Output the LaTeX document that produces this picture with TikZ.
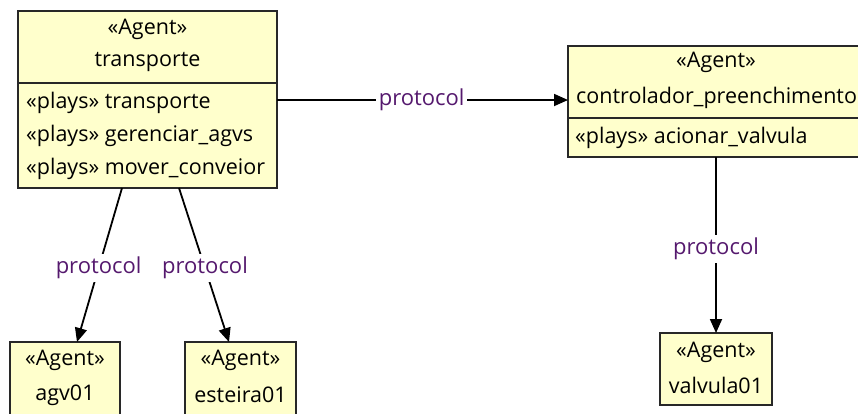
\documentclass[tikz,border=0pt]{standalone}
\usepackage{fontspec}
\setmainfont{Open Sans}
\usetikzlibrary{arrows.meta}
\definecolor{boxfill}{RGB}{255,255,204}
\definecolor{boxline}{RGB}{40,40,40}
\definecolor{lblcol}{RGB}{85,25,110}
\tikzset{
  agentbox/.style={draw=boxline, line width=1.7pt, fill=boxfill, rectangle, inner sep=0pt},
  divline/.style={draw=boxline, line width=1.7pt},
  txt/.style={inner sep=0pt, font=\fontsize{21.5}{24}\selectfont, text=black},
  lbl/.style={inner sep=3pt, fill=white, font=\fontsize{22}{24}\selectfont, text=lblcol},
  conn/.style={draw=black, line width=1.8pt, -{Triangle[length=14pt,width=12pt]}},
}
\begin{document}
\begin{tikzpicture}[x=1pt,y=-1pt]
\useasboundingbox (0,0) rectangle (858,413);
\clip (0,0) rectangle (858,413);
% transporte
\node[agentbox, minimum width=259pt, minimum height=177pt] (tr) at (147.5,99.5) {};
\draw[divline] (tr.west |- 0,83) -- (tr.east |- 0,83);
\node[txt] (trs) at (147.5,29) {«Agent»};
\node[txt] (trn) at (147.5,62) {transporte};
\node[txt, anchor=west] (trp1) at (26,103) {«plays» transporte};
\node[txt, anchor=west] (trp2) at (26,136) {«plays» gerenciar\_agvs};
\node[txt, anchor=west] (trp3) at (26,169) {«plays» mover\_conveior};
% controlador
\node[agentbox, minimum width=322pt, minimum height=111pt] (ct) at (729,101.5) {};
\draw[divline] (ct.west |- 0,118) -- (ct.east |- 0,118);
\node[txt] (cts) at (716,62) {«Agent»};
\node[txt, anchor=west] (ctn) at (576,98) {controlador\_preenchimento};
\node[txt, anchor=west] (ctp) at (575,138) {«plays» acionar\_valvula};
% agv01
\node[agentbox, minimum width=110pt, minimum height=90pt] (agv) at (65,387) {};
\node[txt] (agvs) at (65,360) {«Agent»};
\node[txt] (agvn) at (65,395) {agv01};
% esteira01
\node[agentbox, minimum width=111pt, minimum height=90pt] (est) at (240.5,387) {};
\node[txt] (ests) at (240.5,360) {«Agent»};
\node[txt] (estn) at (240.5,395) {esteira01};
% valvula01
\node[agentbox, minimum width=112pt, minimum height=72pt] (val) at (716,369) {};
\node[txt] (vals) at (716,352) {«Agent»};
\node[txt] (valn) at (716,385) {valvula01};
% connector endpoints
\coordinate (a1) at (122,188);
\coordinate (a1e) at (77,342);
\coordinate (a2) at (179,188);
\coordinate (a2e) at (229,342);
\coordinate (a3) at (277,100);
\coordinate (a3e) at (568,100);
\coordinate (a4) at (716,157);
\coordinate (a4e) at (716,333);
\draw[conn] (a1) -- node[lbl, pos=0.52] (l1) {protocol} (a1e);
\draw[conn] (a2) -- node[lbl, pos=0.52] (l2) {protocol} (a2e);
\draw[conn] (a3) -- node[lbl, pos=0.497] (l3) {protocol} (a3e);
\draw[conn] (a4) -- node[lbl, pos=0.52] (l4) {protocol} (a4e);
\end{tikzpicture}
\end{document}
